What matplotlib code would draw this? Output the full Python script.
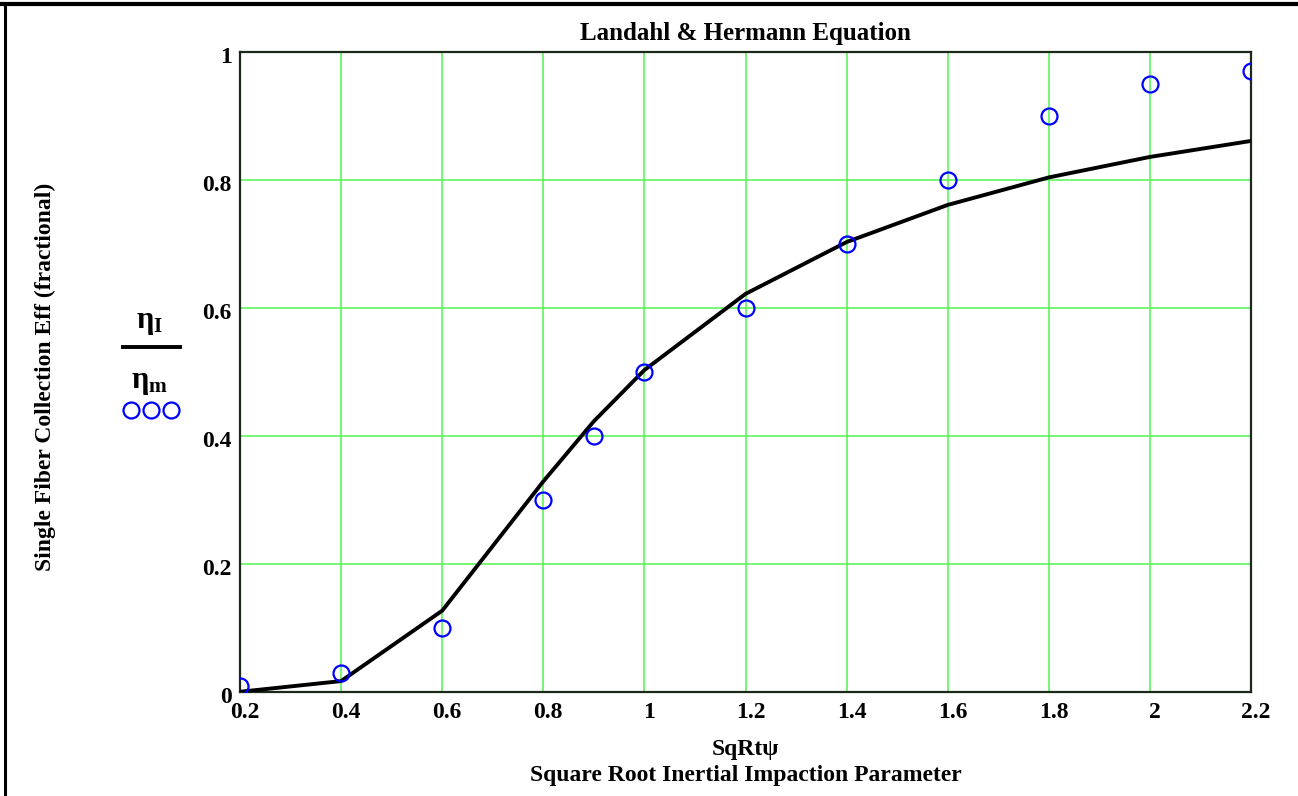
import matplotlib.pyplot as plt
import matplotlib.transforms as mtransforms
from matplotlib.lines import Line2D

# x values: square root of the inertial impaction parameter
sqrt_psi = [0.2, 0.4, 0.6, 0.8, 0.9, 1.0, 1.2, 1.4, 1.6, 1.8, 2.0, 2.2]
# Landahl & Hermann curve
eta_I = [0.0003, 0.017, 0.127, 0.329, 0.423, 0.503, 0.622, 0.703, 0.761, 0.804, 0.836, 0.861]
# measured points
eta_m = [0.01, 0.03, 0.10, 0.30, 0.40, 0.50, 0.60, 0.70, 0.80, 0.90, 0.95, 0.97]

xticks = [0.2, 0.4, 0.6, 0.8, 1.0, 1.2, 1.4, 1.6, 1.8, 2.0, 2.2]
xticklabels = ["0.2", "0.4", "0.6", "0.8", "1", "1.2", "1.4", "1.6", "1.8", "2", "2.2"]
yticks = [0, 0.2, 0.4, 0.6, 0.8, 1.0]
yticklabels = ["0", "0.2", "0.4", "0.6", "0.8", "1"]

plt.rcParams["font.family"] = ["Liberation Serif", "DejaVu Serif"]
plt.rcParams["font.weight"] = "bold"
plt.rcParams["mathtext.fontset"] = "custom"
plt.rcParams["mathtext.rm"] = "Liberation Serif:bold"
plt.rcParams["mathtext.it"] = "Liberation Serif:bold"
plt.rcParams["mathtext.bf"] = "Liberation Serif:bold"

fig = plt.figure(figsize=(12.98, 7.96), dpi=100)
ax = fig.add_axes([0.1849, 0.1307, 0.9638 - 0.1849, 0.9347 - 0.1307])

ax.plot(sqrt_psi, eta_I, color="black", lw=2.8, zorder=3)
ax.plot(sqrt_psi, eta_m, linestyle="none", marker="o", markersize=11.5,
        markerfacecolor="none", markeredgecolor="#0000ff", markeredgewidth=1.6, zorder=4)

ax.set_xlim(0.2, 2.2)
ax.set_ylim(0, 1)
ax.set_xticks(xticks)
ax.set_xticklabels(xticklabels)
ax.set_yticks(yticks)
ax.set_yticklabels(yticklabels)
ax.tick_params(length=0, labelsize=17, pad=6)
ax.tick_params(axis="x", pad=7)
shift_x = mtransforms.ScaledTranslation(5 / 100, 0, fig.dpi_scale_trans)
shift_y = mtransforms.ScaledTranslation(0, -3 / 100, fig.dpi_scale_trans)
for lab in ax.get_xticklabels():
    lab.set_fontweight("bold")
    lab.set_transform(lab.get_transform() + shift_x)
for lab in ax.get_yticklabels():
    lab.set_fontweight("bold")
    lab.set_transform(lab.get_transform() + shift_y)
ax.grid(True, color="#5ef55e", lw=1.2)
ax.set_axisbelow(True)
for s in ax.spines.values():
    s.set_linewidth(1.6)
    s.set_color("#1a2a1a")

fig.text(0.5745, 0.958, "Landahl & Hermann Equation", ha="center", va="center",
         fontsize=18, fontweight="bold")
fig.text(0.5745, 0.059, "SqRt\u03c8", ha="center", va="center", fontsize=17, fontweight="bold")
fig.text(0.5745, 0.026, "Square Root Inertial Impaction Parameter", ha="center", va="center",
         fontsize=17, fontweight="bold")
fig.text(0.035, 0.527, "Single Fiber Collection Eff (fractional)", ha="center", va="center",
         rotation=90, fontsize=17, fontweight="bold")

# legend on the left side
fig.text(0.1155, 0.595, r"$\mathrm{\eta}_{\mathrm{I}}$", ha="center", va="center", fontsize=22)
fig.add_artist(Line2D([0.0948, 0.1387], [0.564, 0.564], color="black", lw=2.8,
                      transform=fig.transFigure))
fig.text(0.1155, 0.52, r"$\mathrm{\eta}_{\mathrm{m}}$", ha="center", va="center", fontsize=22)
fig.add_artist(Line2D([0.1009, 0.1163, 0.1317], [0.485, 0.485, 0.485], linestyle="none",
                      marker="o", markersize=11.5, markerfacecolor="none",
                      markeredgecolor="#0000ff", markeredgewidth=1.6,
                      transform=fig.transFigure))

# frame lines along top and left edges
fig.add_artist(Line2D([0, 1], [0.995, 0.995], color="black", lw=3, transform=fig.transFigure))
fig.add_artist(Line2D([0.004, 0.004], [0, 0.995], color="black", lw=2.2, transform=fig.transFigure))

fig.savefig("out.png", dpi=100)
